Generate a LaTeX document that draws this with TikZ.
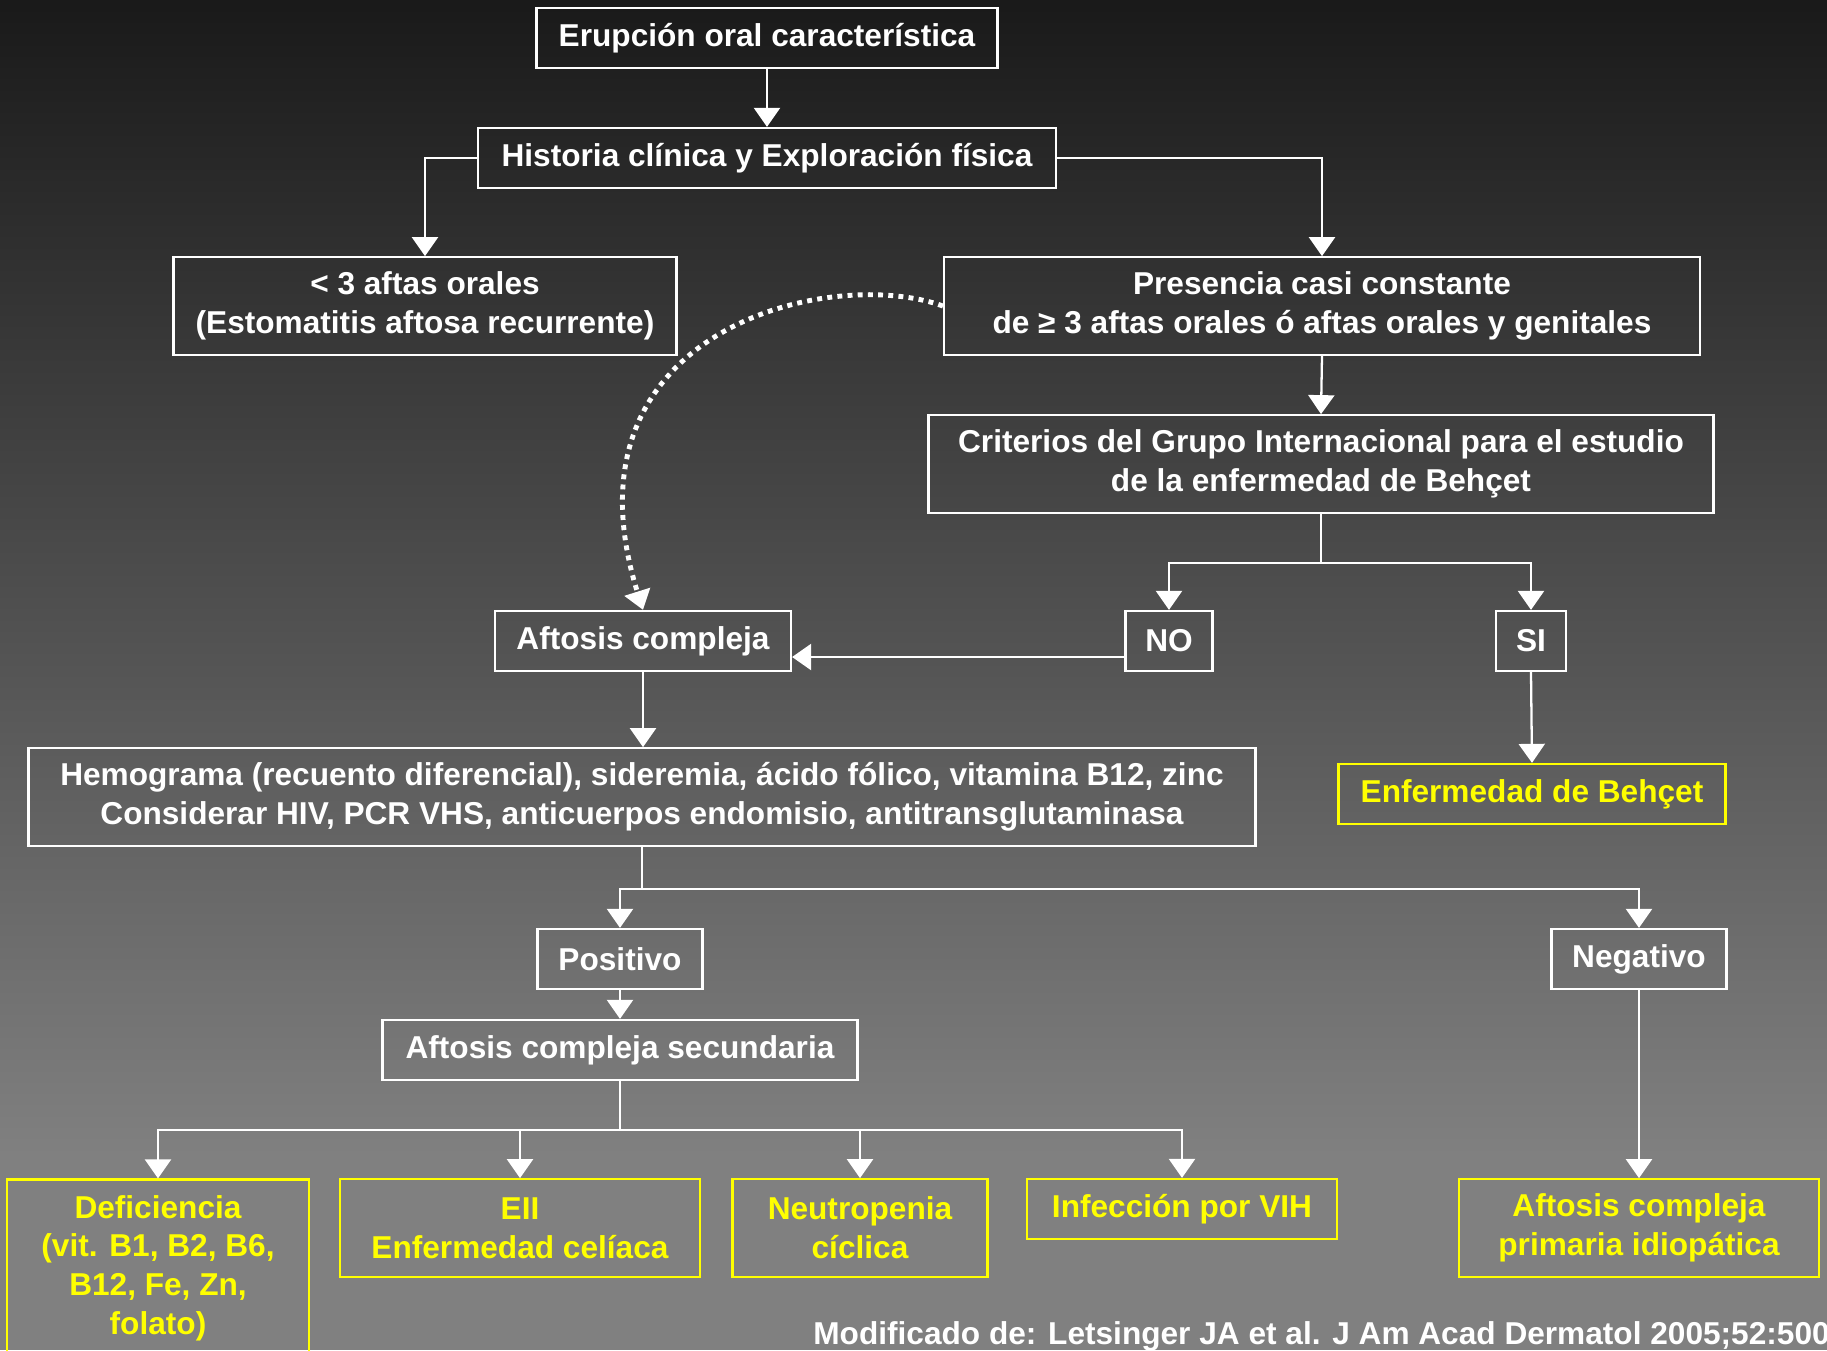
\documentclass[tikz,border=0pt]{standalone}
\usepackage{fontspec}
\setmainfont{Liberation Sans}
\usetikzlibrary{arrows.meta,calc}
\definecolor{bgtop}{gray}{0.1}
\definecolor{bgbot}{gray}{0.5}
\definecolor{myyellow}{rgb}{1,1,0}
\tikzset{
  box/.style={draw=white, text=white, line width=1.3pt, inner sep=0pt, align=center,
    minimum height=1.2cm, font=\fontsize{18}{22}\selectfont\bfseries},
  resbox/.style={box, draw=myyellow, text=myyellow},
  tall/.style={minimum height=1.95cm},
  fork/.style={white, line width=1.3pt},
  link/.style={fork, -{Triangle[width=0.52cm,length=0.38cm]}},
}
\begin{document}
\begin{tikzpicture}[x=0.02cm,y=-0.02cm]
\useasboundingbox (0,0) rectangle (1827,1350);
\fill[bgbot] (0,0) rectangle (1827,1350);
\shade[top color=bgtop,bottom color=bgbot] (0,0) rectangle (1827,1150);
% boxes
\node[box, minimum width=9.22cm] (erup) at (767,38) {Erupción oral característica};
\node[box, minimum width=11.56cm] (hist) at (767,158) {Historia clínica y Exploración física};
\node[box, tall, minimum width=10.06cm] (few) at (425,306) {< 3 aftas orales\\(Estomatitis aftosa recurrente)};
\node[box, tall, minimum width=15.12cm] (pres) at (1322,306) {Presencia casi constante\\de ≥ 3 aftas orales ó aftas orales y genitales};
\node[box, tall, minimum width=15.7cm] (crit) at (1321,464) {Criterios del Grupo Internacional para el estudio\\de la enfermedad de Behçet};
\node[box, minimum width=5.92cm] (acomp) at (643,641) {Aftosis compleja};
\node[box, minimum width=1.74cm] (no) at (1169,641) {NO};
\node[box, minimum width=1.4cm] (si) at (1531,641) {SI};
\node[box, tall, minimum width=24.54cm] (hemo) at (642,797) {Hemograma (recuento diferencial), sideremia, ácido fólico, vitamina B12, zinc\\Considerar HIV, PCR VHS, anticuerpos endomisio, antitransglutaminasa};
\node[resbox, minimum width=7.74cm] (behcet) at (1532,794) {Enfermedad de Behçet};
\node[box, minimum width=3.3cm] (pos) at (620,959) {Positivo};
\node[box, minimum width=3.5cm] (neg) at (1639,959) {Negativo};
\node[box, minimum width=9.5cm] (sec) at (620,1050) {Aftosis compleja secundaria};
\node[resbox, minimum width=6.04cm, minimum height=3.54cm] (defi) at (158,1268) {Deficiencia\\(vit. B1, B2, B6,\\B12, Fe, Zn,\\folato)};
\node[resbox, tall, minimum width=7.2cm] (eii) at (520,1228) {EII\\Enfermedad celíaca};
\node[resbox, tall, minimum width=5.1cm] (neut) at (860,1228) {Neutropenia\\cíclica};
\node[resbox, minimum width=6.2cm] (vih) at (1182,1209) {Infección por VIH};
\node[resbox, tall, minimum width=7.2cm] (prim) at (1639,1228) {Aftosis compleja\\primaria idiopática};
\node[text=white, font=\fontsize{18}{22}\selectfont\bfseries, anchor=west, inner sep=0pt] (ref) at (813,1336) {Modificado de: Letsinger JA et al. J Am Acad Dermatol 2005;52:500};
% draw the arrows
\draw[link] (erup.south) -- (hist.north);
\draw[link] (hist.west) -| (few.north);
\draw[link] (hist.east) -| (pres.north);
\draw[link] (pres.south) -- (crit.north);
\coordinate (critfork) at ($(crit.south)+(0,49)$);
\draw[fork] (crit.south) -- (critfork);
\draw[link] (critfork) -| (no.north);
\draw[link] (critfork) -| (si.north);
\draw[link] ([yshift=-0.32cm]no.west) -- ([yshift=-0.32cm]acomp.east);
\draw[link] (si.south) -- (behcet.north);
\draw[link] (acomp.south) -- (acomp.south |- hemo.north);
\coordinate (hemofork) at ($(hemo.south)+(0,42)$);
\draw[fork] (hemo.south) -- (hemofork);
\draw[link] (hemofork) -| (pos.north);
\draw[link] (hemofork) -| (neg.north);
\draw[link] (pos.south) -- (sec.north);
\coordinate (secfork) at ($(sec.south)+(0,49)$);
\draw[fork] (sec.south) -- (secfork);
\draw[link] (secfork) -| (defi.north);
\draw[link] (secfork) -| (eii.north);
\draw[link] (secfork) -| (neut.north);
\draw[link] (secfork) -| (vih.north);
\draw[link] (neg.south) -- (prim.north);
% dotted link back to Aftosis compleja
\draw[white, line width=2.8pt, dash pattern=on 2.8pt off 3pt, -{Triangle[width=0.52cm,length=0.38cm]}]
  (pres.west) .. controls (830,265) and (555,330) .. (acomp.north);
\end{tikzpicture}
\end{document}
